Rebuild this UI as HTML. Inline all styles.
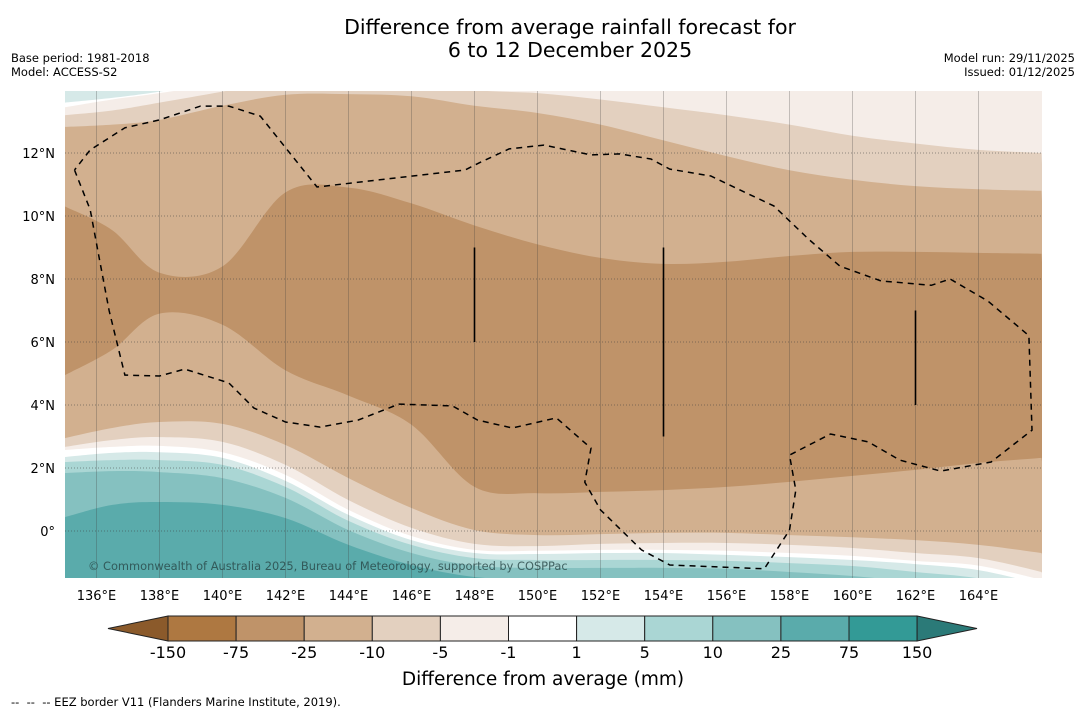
<!DOCTYPE html>
<html><head><meta charset="utf-8">
<style>
body{margin:0;background:#fff;}
svg{display:block;font-family:"DejaVu Sans","Liberation Sans",sans-serif;}
</style></head>
<body>
<svg id="chart" width="1085" height="713" viewBox="0 0 1085 713" xmlns="http://www.w3.org/2000/svg">
<rect width="1085" height="713" fill="#fff"/>
<text x="570" y="34" font-size="20.5" text-anchor="middle" fill="#000">Difference from average rainfall forecast for</text>
<text x="570" y="57" font-size="20.5" text-anchor="middle" fill="#000">6 to 12 December 2025</text>
<text x="11" y="62" font-size="11.5">Base period: 1981-2018</text>
<text x="11" y="76" font-size="11.5">Model: ACCESS-S2</text>
<text x="1075" y="62" font-size="11.5" text-anchor="end">Model run: 29/11/2025</text>
<text x="1075" y="76" font-size="11.5" text-anchor="end">Issued: 01/12/2025</text>
<defs><clipPath id="plotclip"><rect x="65" y="91" width="977" height="487"/></clipPath></defs>
<g id="map" clip-path="url(#plotclip)"></g>
<g id="axes"></g>
<g id="colorbar"></g>
<text x="543" y="685" font-size="18.5" text-anchor="middle">Difference from average (mm)</text>
<text x="11" y="706" font-size="11.5" xml:space="preserve">--  --  -- EEZ border V11 (Flanders Marine Institute, 2019).</text>
</svg>
<script>
// ---- data ----
const lons = [135,136.5,138,140,142,144,146,148,150,152,154,156,158,160,162,164,166];
const capTeal  = [13.6,13.75,13.95,14.3,14.6,14.6,14.6,14.6,14.6,14.6,14.6,14.6,14.6,14.6,14.6,14.6,14.6];
const capWhite = [13.45,13.7,13.9,14.2,14.5,14.5,14.5,14.5,14.5,14.5,14.5,14.5,14.5,14.5,14.5,14.5,14.5];
const bnd5to10   = [13.2,13.35,13.6,13.95,14.3,14.5,14.3,14.0,13.9,13.7,13.45,13.2,12.9,12.55,12.3,12.1,12.0];
const bnd10to25  = [12.83,12.9,13.05,13.5,13.85,13.87,13.8,13.5,13.27,12.9,12.4,11.9,11.45,11.15,10.95,10.85,10.8];
const bnd25to75  = [10.3,9.55,8.2,8.4,10.75,10.9,10.4,9.7,9.1,8.67,8.48,8.55,8.73,8.86,8.86,8.83,8.8];
const bnd75to25  = [4.95,5.75,6.9,6.55,5.1,4.3,3.37,1.4,1.2,1.24,1.3,1.4,1.56,1.75,1.94,2.16,2.32];
const bndS25to10 = [2.95,3.27,3.46,3.4,2.73,1.68,0.73,0.03,-0.13,-0.1,-0.06,-0.06,-0.13,-0.2,-0.29,-0.44,-0.7];
const bndS10to5  = [2.67,2.89,2.98,2.83,2.1,0.98,0.1,-0.41,-0.48,-0.41,-0.38,-0.38,-0.44,-0.54,-0.7,-0.86,-1.3];
const bndS5to1   = [2.57,2.67,2.7,2.5,1.78,0.67,-0.16,-0.6,-0.63,-0.6,-0.6,-0.63,-0.7,-0.79,-0.95,-1.1,-1.55];
const bndS1toP1  = [2.35,2.48,2.5,2.32,1.59,0.51,-0.29,-0.7,-0.73,-0.7,-0.7,-0.76,-0.83,-0.92,-1.05,-1.24,-1.7];
const bndP1to5   = [2.19,2.25,2.25,2.1,1.4,0.32,-0.44,-0.86,-0.92,-0.92,-0.92,-0.95,-1.02,-1.11,-1.3,-1.5,-1.9];
const bndP5to10  = [1.84,1.9,1.87,1.68,1.05,0.03,-0.7,-1.1,-1.17,-1.17,-1.17,-1.2,-1.3,-1.43,-1.62,-1.8,-2.0];
const bndP10to25 = [0.44,0.83,0.92,0.83,0.41,-0.44,-1.08,-1.46,-1.55,-1.7,-1.7,-1.7,-1.7,-1.8,-1.9,-2.0,-2.1];
const levelLabels = ["-150","-75","-25","-10","-5","-1","1","5","10","25","75","150"];
const levelColors = ["#ae7841","#bf9369","#d2b08f","#e3d0bf","#f5ede8","#ffffff","#d6e9e8","#aad6d4","#85c1c0","#5aabab","#339a96"];
const lonTicks = [136,138,140,142,144,146,148,150,152,154,156,158,160,162,164];
const latTicks = [0,2,4,6,8,10,12];
const eezLon = [135.3,135.8,136.1,136.4,136.9,138.0,138.8,140.2,141.0,142.0,143.1,144.3,145.6,147.3,148.1,149.2,150.6,151.7,151.5,152.0,153.3,154.2,157.2,158.0,158.2,158.0,159.3,160.5,161.5,162.8,164.4,165.7,165.6,164.3,163.1,162.5,160.9,159.6,158.6,157.5,156.5,155.5,154.2,153.6,152.6,151.7,150.2,149.1,148.2,147.7,143.0,141.2,140.2,139.3,138.0,136.9,135.8,135.3];
const eezLat = [11.46,10.2,8.6,7.0,4.95,4.92,5.14,4.7,3.9,3.46,3.3,3.52,4.03,3.97,3.52,3.27,3.59,2.63,1.55,0.67,-0.6,-1.08,-1.2,0.03,1.3,2.41,3.08,2.83,2.25,1.9,2.19,3.2,6.2,7.3,8.0,7.8,7.94,8.41,9.27,10.32,10.79,11.27,11.49,11.81,11.97,11.94,12.25,12.13,11.71,11.46,10.92,13.17,13.49,13.49,13.05,12.8,12.1,11.46];
const barLon = [148,154,162];
const barTop = [9.0,9.0,7.0];
const barBot = [6.0,3.0,4.0];

// ---- axis functions ----
const X0=65, X1=1042, Y0=91, Y1=578;
const xOf = lon => 65 + (lon-135)*31.5;
const yOf = lat => 531 - lat*31.5;
const NS='http://www.w3.org/2000/svg';
function mk(tag, attrs, parent){const e=document.createElementNS(NS,tag);for(const k in attrs)e.setAttribute(k,attrs[k]);parent.appendChild(e);return e;}

function smooth(pts){
  let d='M'+pts[0][0].toFixed(1)+','+pts[0][1].toFixed(1);
  for(let i=0;i<pts.length-1;i++){
    const p0=pts[Math.max(0,i-1)],p1=pts[i],p2=pts[i+1],p3=pts[Math.min(pts.length-1,i+2)];
    const c1=[p1[0]+(p2[0]-p0[0])/6,p1[1]+(p2[1]-p0[1])/6];
    const c2=[p2[0]-(p3[0]-p1[0])/6,p2[1]-(p3[1]-p1[1])/6];
    d+=' C'+c1.map(v=>v.toFixed(1)).join(',')+' '+c2.map(v=>v.toFixed(1)).join(',')+' '+p2[0].toFixed(1)+','+p2[1].toFixed(1);
  }
  return d;
}
const map=document.getElementById('map');
const bg=mk('rect',{x:X0,y:Y0,width:X1-X0,height:Y1-Y0,fill:levelColors[4]},map);



function fillBelow(lats,color,name){
  const pts=lons.map((l,i)=>[xOf(l),yOf(lats[i])]);
  const d=smooth(pts)+` L${X1+20},${Y1+40} L${X0-20},${Y1+40} Z`;
  const p=mk('path',{d:d,fill:color},map);
  
  
}
function fillAbove(lats,color,name){
  const pts=lons.map((l,i)=>[xOf(l),yOf(lats[i])]);
  const d=smooth(pts)+` L${X1+20},${Y0-40} L${X0-20},${Y0-40} Z`;
  const p=mk('path',{d:d,fill:color},map);
  
  
}
fillAbove(capWhite,levelColors[5],'band-north-white');
fillAbove(capTeal,levelColors[6],'band-north-teal');
fillBelow(bnd5to10,levelColors[3],'band-minus10');
fillBelow(bnd10to25,levelColors[2],'band-minus25');
fillBelow(bnd25to75,levelColors[1],'band-minus75');
fillBelow(bnd75to25,levelColors[2],'band-minus25-south');
fillBelow(bndS25to10,levelColors[3],'band-minus10-south');
fillBelow(bndS10to5,levelColors[4],'band-minus5-south');
fillBelow(bndS5to1,levelColors[5],'band-minus1-south');
fillBelow(bndS1toP1,levelColors[6],'band-plus1');
fillBelow(bndP1to5,levelColors[7],'band-plus5');
fillBelow(bndP5to10,levelColors[8],'band-plus10');
fillBelow(bndP10to25,levelColors[9],'band-plus25');

// gridlines
lonTicks.forEach(l=>{
  const g=mk('line',{x1:xOf(l),x2:xOf(l),y1:Y0,y2:Y1,stroke:'rgba(60,60,60,0.28)','stroke-width':1},map);
  
  
});
latTicks.forEach(l=>{
  const g=mk('line',{x1:X0,x2:X1,y1:yOf(l),y2:yOf(l),stroke:'rgba(60,60,60,0.5)','stroke-width':1,'stroke-dasharray':'1,2'},map);
  
  
});
// bars
barLon.forEach((l,i)=>{
  const b=mk('line',{x1:xOf(l),x2:xOf(l),y1:yOf(barTop[i]),y2:yOf(barBot[i]),stroke:'#000','stroke-width':1.6},map);
  
  
});
// EEZ
const eez=mk('polyline',{points:eezLon.map((l,i)=>xOf(l).toFixed(1)+','+yOf(eezLat[i]).toFixed(1)).join(' '),fill:'none',stroke:'#000','stroke-width':1.5,'stroke-dasharray':'6,5'},map);


const cp=mk('text',{x:88,y:570,'font-size':11.4,fill:'rgba(40,70,70,0.8)'},map);
cp.textContent='© Commonwealth of Australia 2025, Bureau of Meteorology, supported by COSPPac';



// axis labels
const axes=document.getElementById('axes');
lonTicks.forEach(l=>{
  const t=mk('text',{x:xOf(l),y:600,'font-size':13,'text-anchor':'middle'},axes);
  t.textContent=l+'°E';
  
  
});
latTicks.forEach(l=>{
  const t=mk('text',{x:55,y:yOf(l)+5,'font-size':13,'text-anchor':'end'},axes);
  t.textContent=l===0?'0°':l+'°N';
  
  
});

// colorbar
const cb=document.getElementById('colorbar');
const cbL=168, cbW=68.1, cbT=616, cbB=641;
const lt=mk('polygon',{points:`108,628.5 ${cbL},${cbT} ${cbL},${cbB}`,fill:'#8b5a2b',stroke:'#222','stroke-width':1},cb);


levelColors.forEach((c,i)=>{
  const r=mk('rect',{x:cbL+i*cbW,y:cbT,width:cbW,height:cbB-cbT,fill:c,stroke:'#222','stroke-width':1},cb);
  
  
});
const rEnd=cbL+levelColors.length*cbW;
const rt=mk('polygon',{points:`${rEnd},${cbT} 977,628.5 ${rEnd},${cbB}`,fill:'#2b7a78',stroke:'#222','stroke-width':1},cb);


levelLabels.forEach((s,i)=>{
  const t=mk('text',{x:cbL+i*cbW,y:658,'font-size':16,'text-anchor':'middle'},cb);
  t.textContent=s;
  
  
});
</script>
</body></html>
